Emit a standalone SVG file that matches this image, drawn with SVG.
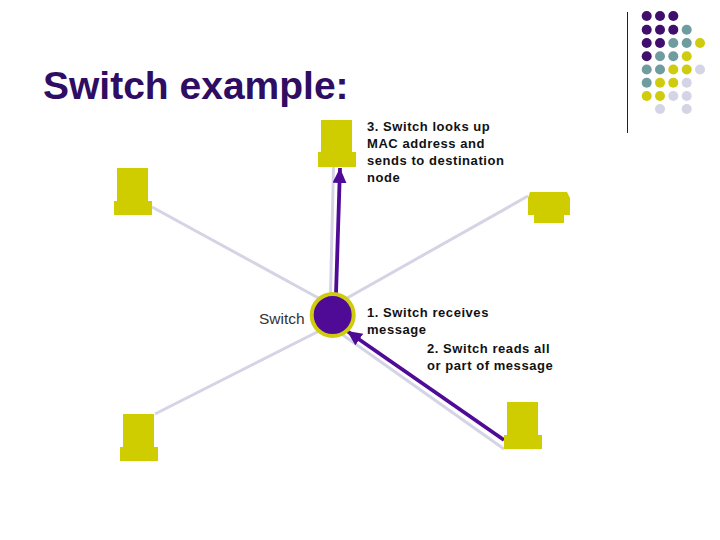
<svg xmlns="http://www.w3.org/2000/svg" width="720" height="540" viewBox="0 0 720 540">
<style>
.bg{fill:#fff}
text{font-family:"Liberation Sans",Arial,sans-serif;fill:#000}
.title{font-size:39px;font-weight:700;fill:#2e0d63}
.note{font-size:13px;font-weight:700;letter-spacing:.55px;fill:#111}
.lbl{font-size:15.500px;fill:#333}
.link{stroke:#d4d4e6;stroke-width:3;fill:none}
.flow{stroke:#4f0a96;stroke-width:3.8;fill:none;marker-end:url(#head)}
.pc{fill:#cfcc00}
.a{fill:#3f0f6b}.b{fill:#6f9d9f}.c{fill:#cfcc10}.d{fill:#d4d4e6}
</style>
<defs>
<marker id="head" markerUnits="userSpaceOnUse" markerWidth="17" markerHeight="15" refX="15" refY="7" orient="auto"><path d="M0 0L15 7L0 14Z" fill="#4f0a96"/></marker>
</defs>
<rect class="bg" width="720" height="540"/>
<g id="decoration">
<path d="M627.5 12V133" stroke="#222" stroke-width="1" fill="none"/>
<circle class="a" cx="646.7" cy="16" r="5"/><circle class="a" cx="660" cy="16" r="5"/><circle class="a" cx="673.3" cy="16" r="5"/>
<circle class="a" cx="646.7" cy="29.7" r="5"/><circle class="a" cx="660" cy="29.7" r="5"/><circle class="a" cx="673.3" cy="29.7" r="5"/><circle class="b" cx="686.7" cy="29.7" r="5"/>
<circle class="a" cx="646.7" cy="43" r="5"/><circle class="a" cx="660" cy="43" r="5"/><circle class="b" cx="673.3" cy="43" r="5"/><circle class="b" cx="686.7" cy="43" r="5"/><circle class="c" cx="700" cy="43" r="5"/>
<circle class="a" cx="646.7" cy="56.3" r="5"/><circle class="b" cx="660" cy="56.3" r="5"/><circle class="b" cx="673.3" cy="56.3" r="5"/><circle class="c" cx="686.7" cy="56.3" r="5"/>
<circle class="b" cx="646.7" cy="69.5" r="5"/><circle class="b" cx="660" cy="69.5" r="5"/><circle class="c" cx="673.3" cy="69.5" r="5"/><circle class="c" cx="686.7" cy="69.5" r="5"/><circle class="d" cx="700" cy="69.5" r="5"/>
<circle class="b" cx="646.7" cy="82.7" r="5"/><circle class="c" cx="660" cy="82.7" r="5"/><circle class="c" cx="673.3" cy="82.7" r="5"/><circle class="d" cx="686.7" cy="82.7" r="5"/>
<circle class="c" cx="646.7" cy="96" r="5"/><circle class="c" cx="660" cy="96" r="5"/><circle class="d" cx="673.3" cy="96" r="5"/><circle class="d" cx="686.7" cy="96" r="5"/>
<circle class="d" cx="660" cy="109" r="5"/><circle class="d" cx="686.7" cy="109" r="5"/>
</g>
<text class="title" x="43" y="99">Switch example:</text>
<g id="connectors">
<path class="link" d="M152 207L333 306"/>
<path class="link" d="M155 414L333 324"/>
<path class="link" d="M333.500 167L330 315"/>
<path class="link" d="M528 196L333 306"/>
<path class="link" d="M504 449L333 328"/>
<path class="flow" d="M336 294L340 168"/>
<path class="flow" d="M504 440L347 331"/>
</g>
<g id="node-top"><path class="pc" d="M321 120H352V152H356V167H318V152H321Z"/></g>
<g id="node-left"><path class="pc" d="M117 168H148V201H152V215H114V201H117Z"/></g>
<g id="node-right"><path class="pc" d="M530 192H567L570 198V215H564V223H534V215H528V198Z"/></g>
<g id="node-bottom-left"><path class="pc" d="M123 414H154V447H158V461H120V447H123Z"/></g>
<g id="node-bottom-right"><path class="pc" d="M507 402H538V435H542V449H504V435H507Z"/></g>
<g id="node-switch"><circle cx="332.700" cy="315" r="21" fill="#4f0a96" stroke="#cfcc10" stroke-width="4"/>
<text class="lbl" x="259" y="324">Switch</text></g>
<g id="notes">
<text class="note" x="367" y="130.500">3. Switch looks up</text>
<text class="note" x="367" y="147.500">MAC address and</text>
<text class="note" x="367" y="164.500">sends to destination</text>
<text class="note" x="367" y="181.500">node</text>
<text class="note" x="367" y="317">1. Switch receives</text>
<text class="note" x="367" y="334">message</text>
<text class="note" x="427" y="353">2. Switch reads all</text>
<text class="note" x="427" y="370">or part of message</text>
</g>
</svg>
